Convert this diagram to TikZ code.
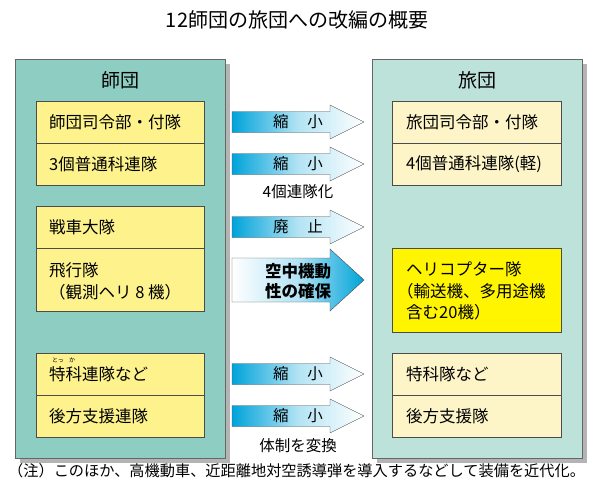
\documentclass[tikz,border=0pt]{standalone}
\usepackage{fontspec}
\setmainfont{Noto Sans CJK JP}
\usetikzlibrary{positioning}
\definecolor{divteal}{HTML}{8ECDC2}
\definecolor{brigteal}{HTML}{BDE2D9}
\definecolor{divyellow}{HTML}{FDF28C}
\definecolor{brigyellow}{HTML}{FDF5C8}
\definecolor{heliyellow}{HTML}{FFF500}
\definecolor{arrowblue}{HTML}{00A3DA}
\definecolor{shadowgray}{HTML}{B4B4B4}
\tikzset{
  panel/.style={draw=black!60,fill=#1},
  unitbox/.style={draw=black!70,fill=#1},
  unittext/.style={anchor=west,inner sep=0pt,align=left,
    font=\fontsize{16.5}{22}\selectfont},
  headtext/.style={inner sep=0pt,font=\fontsize{19}{22}\selectfont},
  arrowtext/.style={inner sep=0pt,font=\fontsize{15.5}{20}\selectfont},
  shrinkarrow/.style={draw=black!70,left color=arrowblue,right color=white,
    middle color=arrowblue!30},
  gainarrow/.style={draw=black!70,left color=white,right color=arrowblue,
    middle color=arrowblue!30},
}
\begin{document}
\begin{tikzpicture}[x=1pt,y=-1pt]
    \useasboundingbox (0,0) rectangle (595,496);

    \node[inner sep=0pt,font=\fontsize{20}{24}\selectfont] (title) at (297,20) {12師団の旅団への改編の概要};

    % panels
    \fill[shadowgray] (20,64) rectangle (230,463);
    \fill[shadowgray] (377,64) rectangle (587,463);
    \draw[panel=divteal] (15,59) rectangle (225,458);
    \draw[panel=brigteal] (372,59) rectangle (582,458);
    \node[headtext] (divhead) at (120,80) {師団};
    \node[headtext] (brighead) at (477,80) {旅団};

    % division units
    \draw[unitbox=divyellow] (36,101) rectangle (204,185);
    \draw[black!70] (36,143) -- (204,143);
    \draw[unitbox=divyellow] (36,206) rectangle (204,311);
    \draw[black!70] (36,248) -- (204,248);
    \draw[unitbox=divyellow] (36,353) rectangle (204,437);
    \draw[black!70] (36,395) -- (204,395);

    \node[unittext] (dhq) at (49,122) {師団司令部・付隊};
    \node[unittext] (dinf) at (49,164) {3個普通科連隊};
    \node[unittext] (dtank) at (49,227) {戦車大隊};
    \node[unittext] (dair) at (49,281) {飛行隊\\（観測ヘリ 8 機）};
    \node[unittext] (darty) at (49,374) {特科連隊など};
    \node[unittext] (dlog) at (49,416) {後方支援連隊};
    \node[inner sep=0pt,font=\fontsize{6}{7}\selectfont] (ruby1) at (58,360) {とっ};
    \node[inner sep=0pt,font=\fontsize{6}{7}\selectfont] (ruby2) at (72,360) {か};

    % brigade units
    \draw[unitbox=brigyellow] (392,101) rectangle (561,185);
    \draw[black!70] (392,143) -- (561,143);
    \draw[unitbox=heliyellow] (392,248) rectangle (561,332);
    \draw[unitbox=brigyellow] (392,353) rectangle (561,437);
    \draw[black!70] (392,395) -- (561,395);

    \node[unittext] (bhq) at (406,122) {旅団司令部・付隊};
    \node[unittext] (binf) at (406,164) {4個普通科連隊(軽)};
    \node[unittext,font=\fontsize{16.5}{21.5}\selectfont] (bheli) at (406,291)
        {ヘリコプター隊\\\hspace*{-9pt}（輸送機、多用途機\\含む20機）};
    \node[unittext] (barty) at (406,374) {特科隊など};
    \node[unittext] (blog) at (406,416) {後方支援隊};

    % arrows
    \foreach \yc/\txt in {122/縮\hspace{1.2em}小,164/縮\hspace{1.2em}小,
        227/廃\hspace{1.2em}止,374/縮\hspace{1.2em}小,416/縮\hspace{1.2em}小}{
      \draw[shrinkarrow] (232,\yc-10.5) -- (330,\yc-10.5) -- (330,\yc-17)
        -- (364,\yc) -- (330,\yc+17) -- (330,\yc+10.5) -- (232,\yc+10.5) -- cycle;
      \node[arrowtext] at (298,\yc) {\txt};
    }
    \draw[gainarrow] (232,258) -- (330,258) -- (330,249) -- (364,280)
        -- (330,311) -- (330,302) -- (232,302) -- cycle;
    \node[arrowtext,align=center,font=\fontsize{16.5}{20.5}\selectfont\bfseries]
        (airmob) at (298,281) {空中機動\\性の確保};

    \node[arrowtext] (fourreg) at (298,192) {4個連隊化};
    \node[arrowtext] (reform) at (298,446) {体制を変換};

    \node[anchor=west,inner sep=0pt,font=\fontsize{15.2}{18}\selectfont] (note) at (8,471)
        {（注）このほか、高機動車、近距離地対空誘導弾を導入するなどして装備を近代化。};
\end{tikzpicture}
\end{document}
